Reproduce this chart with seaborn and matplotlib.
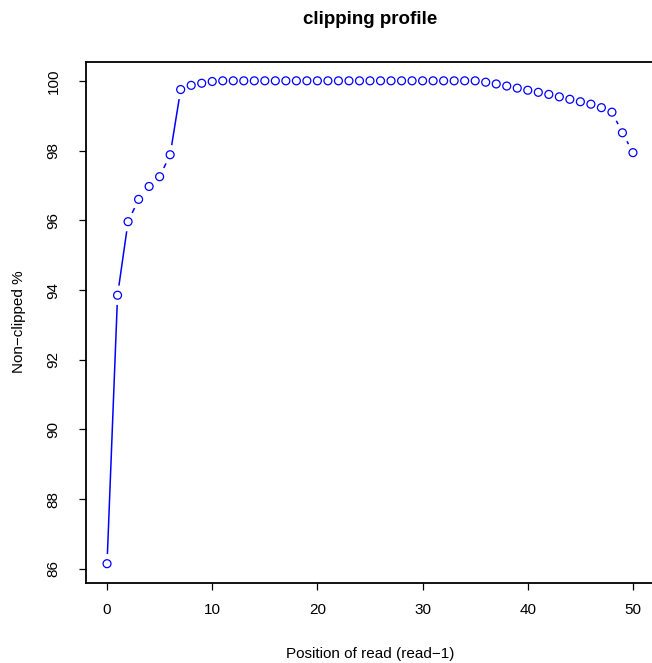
import matplotlib
matplotlib.use("Agg")
import matplotlib.pyplot as plt
import seaborn as sns
import pandas as pd
import numpy as np

# ---- data ----
positions = list(range(51))
non_clipped = [
    86.15, 93.85, 95.96, 96.60, 96.97, 97.25, 97.88, 99.75, 99.87, 99.93,
    99.98, 100.0, 100.0, 100.0, 100.0, 100.0, 100.0, 100.0, 100.0, 100.0,
    100.0, 100.0, 100.0, 100.0, 100.0, 100.0, 100.0, 100.0, 100.0, 100.0,
    100.0, 100.0, 100.0, 100.0, 100.0, 100.0, 99.96, 99.91, 99.85, 99.79,
    99.73, 99.67, 99.61, 99.54, 99.47, 99.40, 99.33, 99.23, 99.10, 98.51,
    97.94,
]
x_ticks = [0, 10, 20, 30, 40, 50]
y_ticks = [86, 88, 90, 92, 94, 96, 98, 100]
title = "clipping profile"
x_label = "Position of read (read\u22121)"
y_label = "Non\u2212clipped %"

df = pd.DataFrame({"pos": positions, "pct": non_clipped})

sns.set_style("white")
plt.rcParams["font.family"] = ["Liberation Sans", "DejaVu Sans"]
plt.rcParams["text.color"] = "black"
plt.rcParams["axes.labelcolor"] = "black"
plt.rcParams["xtick.color"] = "black"
plt.rcParams["ytick.color"] = "black"

W, H = 652, 663
fig = plt.figure(figsize=(W / 100, H / 100), dpi=100)
left_px, right_px, top_px, bot_px = 86, 654, 61.5, 583
ax = fig.add_axes([left_px / W, 1 - bot_px / H, (right_px - left_px) / W, (bot_px - top_px) / H])

blue = "#0000FF"
sns.lineplot(data=df, x="pos", y="pct", ax=ax, color=blue, lw=1.1, zorder=1)
# white disks create the R type="b" gaps around each point
sns.scatterplot(data=df, x="pos", y="pct", ax=ax, color="white", s=14 ** 2,
                edgecolor="none", linewidth=0, zorder=2)
sns.scatterplot(data=df, x="pos", y="pct", ax=ax, facecolor="none", edgecolor=blue,
                s=5.7 ** 2, linewidth=0.9, zorder=3, marker="o")

ymin, ymax = min(non_clipped), max(non_clipped)
yr = ymax - ymin
ax.set_xlim(-2, 52)
ax.set_ylim(ymin - 0.04 * yr, ymax + 0.04 * yr)
ax.set_xticks(x_ticks)
ax.set_yticks(y_ticks)
ax.set_xticklabels([str(t) for t in x_ticks])
ax.set_yticklabels([str(t) for t in y_ticks], rotation=90, va="center")
ax.tick_params(axis="both", direction="out", length=5.2, width=0.9, color="black",
               labelsize=11, labelcolor="black", left=True, bottom=True)
ax.tick_params(axis="x", pad=9)
ax.tick_params(axis="y", pad=13)
for sp in ax.spines.values():
    sp.set_visible(True)
    sp.set_color("black")
    sp.set_linewidth(1.3)
ax.set_xlabel("")
ax.set_ylabel("")

fig.text(370 / W, 1 - 20 / H, title, ha="center", va="center", fontsize=13.5,
         fontweight="bold", color="black")
fig.text(370 / W, 1 - 654 / H, x_label, ha="center", va="center", fontsize=11,
         color="black")
fig.text(19 / W, 1 - 322 / H, y_label, ha="center", va="center", rotation=90,
         fontsize=11, color="black")

fig.savefig("out.png", dpi=100)
